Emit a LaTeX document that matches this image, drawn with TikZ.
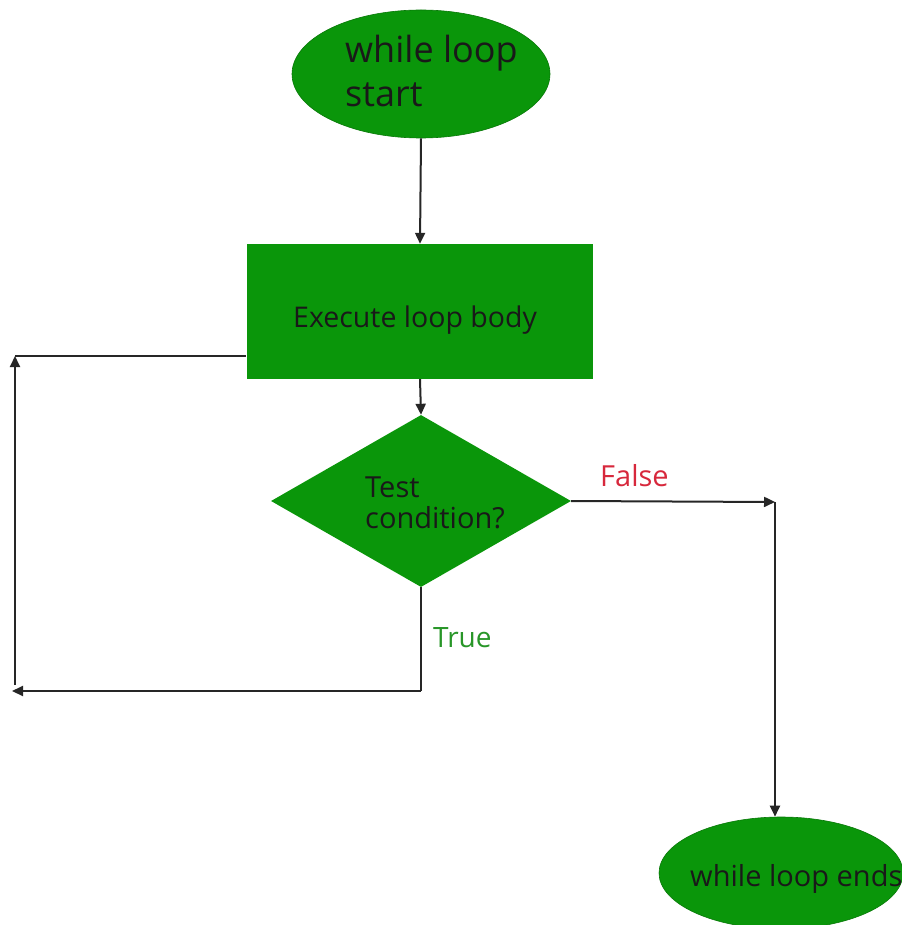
\documentclass[tikz,border=0pt]{standalone}
\usepackage{fontspec}
\setmainfont{Open Sans}
\usetikzlibrary{shapes.geometric,arrows.meta}
\definecolor{flowgreen}{RGB}{10,150,10}
\definecolor{falsered}{RGB}{215,40,60}
\definecolor{truegreen}{RGB}{40,150,40}
\tikzset{
  startend/.style={ellipse, fill=flowgreen, draw=flowgreen!80!black, line width=0.6pt, inner sep=0pt},
  process/.style={rectangle, fill=flowgreen, inner sep=0pt},
  decision/.style={diamond, fill=flowgreen, inner sep=0pt, aspect=1.73},
  conn/.style={line width=2pt, black!85},
  arr/.style={conn, -{Triangle[length=11pt,width=10pt]}},
  lbl/.style={inner sep=0pt, anchor=base west, align=left, text=black!90},
}
\begin{document}
\begin{tikzpicture}[x=1pt,y=-1pt]
\useasboundingbox (0,0) rectangle (901,925);
% start
\node[startend, minimum width=258pt, minimum height=128pt] (start) at (421,74) {};
\node[lbl, font=\fontsize{36}{44}\selectfont] (starttxt) at (345,107) {while loop\\start};
% process
\node[process, minimum width=346pt, minimum height=135pt] (body) at (420,311.5) {};
\node[lbl, font=\fontsize{28.5}{32}\selectfont] (bodytxt) at (293,327) {Execute loop body};
% decision
\node[decision, minimum width=300pt, minimum height=172pt] (cond) at (421,501) {};
\node[lbl, font=\fontsize{29}{31}\selectfont] (condtxt) at (365,528) {Test\\condition?};
% end
\node[startend, minimum width=244pt, minimum height=112pt] (end) at (781,873) {};
\node[lbl, font=\fontsize{29}{32}\selectfont] (endtxt) at (690,886) {while loop ends};
% labels
\node[lbl, font=\fontsize{29}{32}\selectfont, text=falsered] (false) at (600,486) {False};
\node[lbl, font=\fontsize{28}{32}\selectfont, text=truegreen] (true) at (433,647) {True};
% coordinates
\coordinate (b1) at (421,691);
\coordinate (b2) at (12,691);
\coordinate (l1) at (15,685);
\coordinate (l2) at (15,356);
\coordinate (bl) at (246,356);
\coordinate (r1) at (775,502);
% connectors
\draw[arr] (start.south) -- (body.north);
\draw[arr] (body.south) -- (cond.north);
\draw[arr] (cond.east) -- (r1);
\draw[arr] (r1) -- (r1 |- end.north);
\draw[conn] (cond.south) -- (b1);
\draw[arr] (b1) -- (b2);
\draw[arr] (l1) -- (l2);
\draw[conn] (l2) -- (bl);
\end{tikzpicture}
\end{document}
